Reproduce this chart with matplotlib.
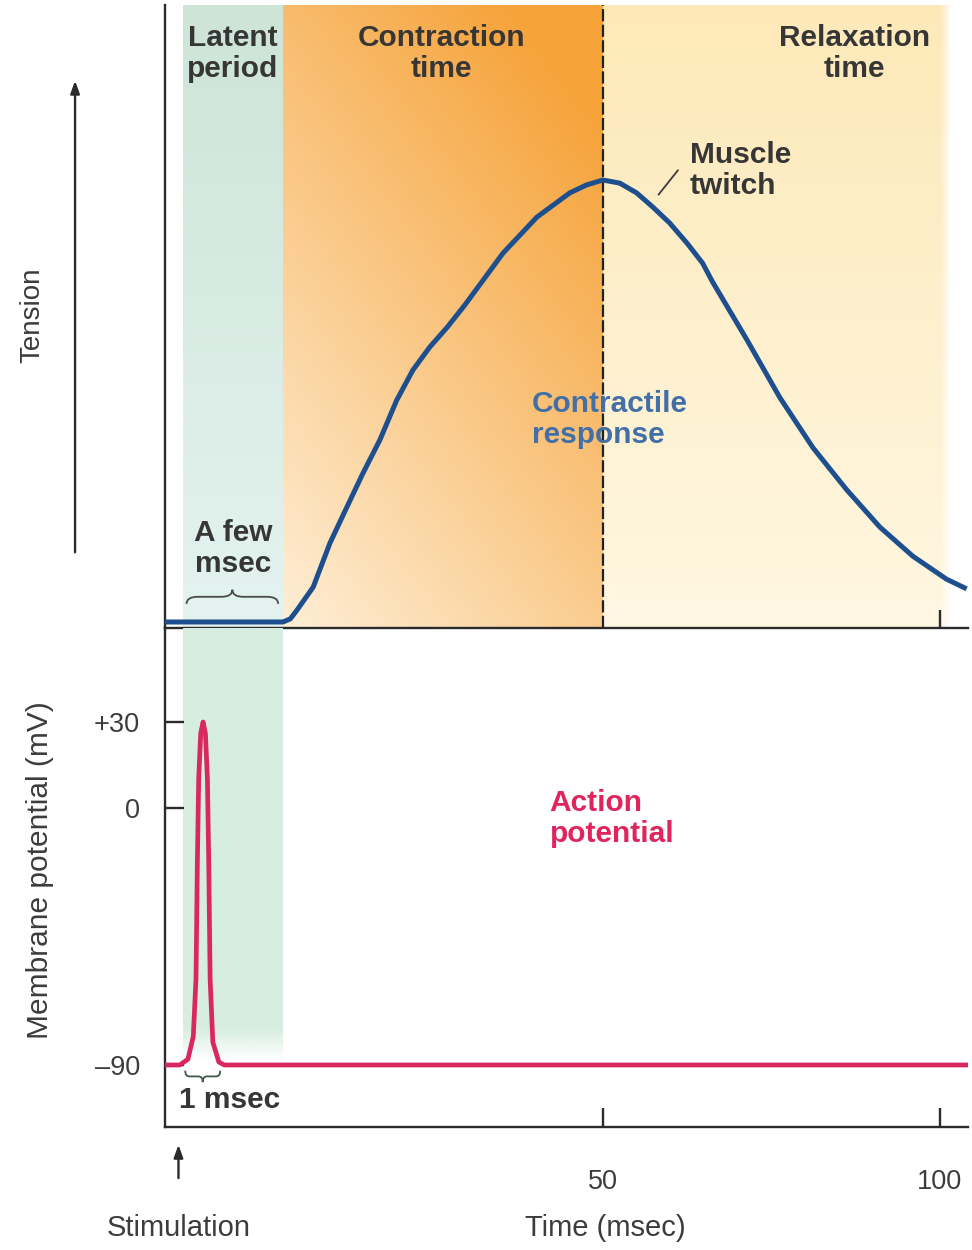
import numpy as np
import matplotlib.pyplot as plt
import matplotlib.transforms as mtransforms
from matplotlib.path import Path
from matplotlib.patches import PathPatch

plt.rcParams['font.family'] = ['Liberation Sans', 'DejaVu Sans']

# time (msec) landmarks
stim_time = -13.0
latent_start = -12.3
latent_end = 2.5
peak_time = 50
relax_end = 100.5
x_ticks = [50, 100]
x_ticklabels = ['50', '100']

# contractile response (tension, fraction of peak)
twitch_t = [-15, 2.5, 3.6, 4.6, 7.0, 9.5, 12.0, 14.4, 16.9, 19.4, 20.6, 21.8, 24.3, 26.9,
            29.5, 35.2, 40.2, 45.1, 47.6, 50.0, 52.5, 55.0, 57.4, 59.9, 62.5, 64.8,
            66.3, 71.4, 76.3, 81.2, 86.2, 91.1, 96.0, 101.0, 104.0]
twitch_tension = [0, 0, 0.007, 0.027, 0.079, 0.179, 0.260, 0.337, 0.412, 0.502, 0.536, 0.570,
                  0.622, 0.667, 0.717, 0.835, 0.916, 0.971, 0.989, 1.0, 0.993, 0.971, 0.939,
                  0.903, 0.857, 0.812, 0.769, 0.638, 0.507, 0.394, 0.299, 0.215, 0.149,
                  0.097, 0.075]

# action potential (mV)
ap_t = [-15, -12.8, -11.6, -10.8, -10.4, -10.2, -10.0, -9.7, -9.35, -9.0, -8.7, -8.5,
        -8.3, -7.9, -7.0, -6.2, 104.2]
ap_mv = [-90, -90, -88, -80, -60, -20, 10, 26, 30, 26, 10, -20, -60, -82, -89, -90, -90]
mv_ticks = [30, 0, -90]
mv_ticklabels = ['+30', '0', '\u201390']

XLIM = (-15, 104.2)
TOP_YLIM = (-0.0136, 1.396)
BOT_YLIM = (-111.7, 62.9)

dark = '#2b2b2b'
label_col = '#3c3c3c'

fig = plt.figure(figsize=(9.72, 12.5), dpi=100)
ax_top = fig.add_axes([0.16975, 0.4976, 0.82613, 0.4984])
ax_bot = fig.add_axes([0.16975, 0.0984, 0.82613, 0.3992])

for ax in (ax_top, ax_bot):
    ax.set_xlim(*XLIM)
    for s in ('top', 'right'):
        ax.spines[s].set_visible(False)
    for s in ('left', 'bottom'):
        ax.spines[s].set_linewidth(1.7)
        ax.spines[s].set_color(dark)
    ax.patch.set_alpha(0)
ax_top.set_ylim(*TOP_YLIM)
ax_bot.set_ylim(*BOT_YLIM)


def rgb(c):
    return np.array(c, dtype=float) / 255.0


# ---- backgrounds ----
# latent band, top panel
ny = 200
v = np.linspace(0, 1, ny)[:, None, None]
g_top = rgb((228, 243, 240)) * (1 - v) + rgb((205, 228, 215)) * v
g_top = np.repeat(g_top, 2, axis=1)
ax_top.imshow(g_top, extent=(latent_start, latent_end, TOP_YLIM[0], TOP_YLIM[1]),
              origin='lower', aspect='auto', zorder=0, interpolation='bilinear')

# contraction band
nx = 200
u = np.linspace(0, 1, nx)[None, :]
vv = np.linspace(0, 1, ny)[:, None]
w = np.clip(0.08 + 0.42 * u + 0.62 * vv, 0, 1)[:, :, None]
deep = rgb((246, 163, 58))
pale = rgb((255, 245, 228))
contr = pale * (1 - w) + deep * w
ax_top.imshow(contr, extent=(latent_end, peak_time, TOP_YLIM[0], TOP_YLIM[1]),
              origin='lower', aspect='auto', zorder=0, interpolation='bilinear')

# relaxation band, fades out on the right
rel_x1 = relax_end + 1.2
ux = np.linspace(peak_time, rel_x1, nx)[None, :]
fade = np.clip((rel_x1 - ux) / 1.6, 0, 1)
col = rgb((255, 247, 226)) * (1 - vv[:, :, None]) + rgb((253, 233, 184)) * vv[:, :, None]
col = np.repeat(col, nx, axis=1)
relax = np.concatenate([col, fade[:, :, None].repeat(ny, axis=0)], axis=2)
ax_top.imshow(relax, extent=(peak_time, rel_x1, TOP_YLIM[0], TOP_YLIM[1]),
              origin='lower', aspect='auto', zorder=0, interpolation='bilinear')

# latent band, bottom panel
g_bot = np.ones((ny, 2, 4))
g_bot[:, :, :3] = rgb((214, 237, 223))
g_bot[:, :, 3] = np.clip(np.linspace(0, 1, ny) / 0.08, 0, 1)[:, None]
ax_bot.imshow(g_bot, extent=(latent_start, latent_end, -89, BOT_YLIM[1]),
              origin='lower', aspect='auto', zorder=0, interpolation='bilinear')

# ---- curves ----
ax_top.plot(twitch_t, twitch_tension, color='#1d4f8f', lw=3.6,
            solid_joinstyle='round', solid_capstyle='butt', zorder=3, clip_on=False)
ax_top.axvline(peak_time, color='#222222', lw=1.6, dashes=(5.5, 1.5), zorder=2)

ax_bot.plot(ap_t, ap_mv, color='#d9285f', lw=3.4,
            solid_joinstyle='round', zorder=3)

# ---- ticks ----
ax_top.set_xticks([100])
ax_top.set_xticklabels([])
ax_top.set_yticks([])
ax_top.tick_params(axis='x', direction='in', length=13, width=1.7, color=dark)

ax_bot.set_xticks(x_ticks)
ax_bot.set_xticklabels(x_ticklabels)
ax_bot.set_yticks(mv_ticks)
ax_bot.set_yticklabels(mv_ticklabels)
ax_bot.tick_params(axis='x', direction='in', length=14, width=1.7, color=dark,
                   pad=30, labelsize=19.5, labelcolor=label_col)
ax_bot.tick_params(axis='y', direction='in', length=14, width=1.7, color=dark,
                   pad=18, labelsize=19.5, labelcolor=label_col)

# ---- axis labels ----
ax_top.set_ylabel('Tension', fontsize=20, color=label_col)
ax_top.yaxis.set_label_coords(-0.1656, 0.502)
ax_top.yaxis.label.set_va('center')
ax_bot.set_ylabel('Membrane potential (mV)', fontsize=21.5, color=label_col)
ax_bot.yaxis.set_label_coords(-0.1557, 0.515)
ax_bot.yaxis.label.set_va('center')
ax_bot.set_xlabel('Time (msec)', fontsize=21, color=label_col)
ax_bot.xaxis.set_label_coords(0.548, -0.202)
ax_bot.xaxis.label.set_va('center')

# tension arrow
ax_top.annotate('', xy=(-0.112, 0.883), xytext=(-0.112, 0.117), xycoords='axes fraction',
                arrowprops=dict(arrowstyle='-|>,head_length=0.75,head_width=0.27',
                                color=dark, lw=1.7))

# stimulation arrow
bt = mtransforms.blended_transform_factory(ax_bot.transData, ax_bot.transAxes)
ax_bot.annotate('', xy=(stim_time, -0.030), xytext=(stim_time, -0.108),
                xycoords=bt, textcoords=bt,
                arrowprops=dict(arrowstyle='-|>,head_length=0.75,head_width=0.27',
                                color=dark, lw=1.7))
ax_bot.text(stim_time, -0.202, 'Stimulation', transform=bt, ha='center', va='center',
            fontsize=21, color=label_col)

# ---- region and curve labels ----
bold = dict(fontsize=21.5, fontweight='bold', color='#363636', linespacing=1.12)
ax_top.text((latent_start + latent_end) / 2, 1.352, 'Latent\nperiod', ha='center', va='top',
            multialignment='center', **bold)
ax_top.text(26.1, 1.352, 'Contraction\ntime', ha='center', va='top',
            multialignment='center', **bold)
ax_top.text(87.4, 1.352, 'Relaxation\ntime', ha='center', va='top',
            multialignment='center', **bold)
ax_top.text(62.9, 1.088, 'Muscle\ntwitch', ha='left', va='top', **bold)
ax_top.annotate('', xy=(58.0, 0.962), xytext=(61.4, 1.027),
                arrowprops=dict(arrowstyle='-', color='#3a3a3a', lw=1.3))
ax_top.text(39.5, 0.525, 'Contractile\nresponse', ha='left', va='top',
            fontsize=21.5, fontweight='bold', color='#416fa6', linespacing=1.12)
ax_top.text(-4.9, 0.232, 'A few\nmsec', ha='center', va='top',
            multialignment='center', **bold)
ax_bot.text(42.1, 6.5, 'Action\npotential', ha='left', va='top',
            fontsize=21.5, fontweight='bold', color='#e0245e', linespacing=1.12)
ax_bot.text(-12.9, -97.5, '1 msec', ha='left', va='top', **bold)


def brace(ax, x0, x1, y, h, color):
    # curly brace; h>0 -> tip points up, ends bend down
    xm = (x0 + x1) / 2
    q = (x1 - x0) * 0.12
    verts = [(x0, y - h), (x0, y), (x0 + q, y),
             (xm - q, y), (xm, y), (xm, y + h),
             (xm, y), (xm + q, y),
             (x1 - q, y), (x1, y), (x1, y - h)]
    codes = [Path.MOVETO, Path.CURVE3, Path.CURVE3,
             Path.LINETO, Path.CURVE3, Path.CURVE3,
             Path.CURVE3, Path.CURVE3,
             Path.LINETO, Path.CURVE3, Path.CURVE3]
    ax.add_patch(PathPatch(Path(verts, codes), fill=False, edgecolor=color, lw=1.3, zorder=4))


brace(ax_top, -11.8, 1.8, 0.057, 0.016, '#4a4a4a')
brace(ax_bot, -12.0, -6.8, -94.0, -2.0, '#3c5a48')

fig.savefig('out.png', dpi=100)
